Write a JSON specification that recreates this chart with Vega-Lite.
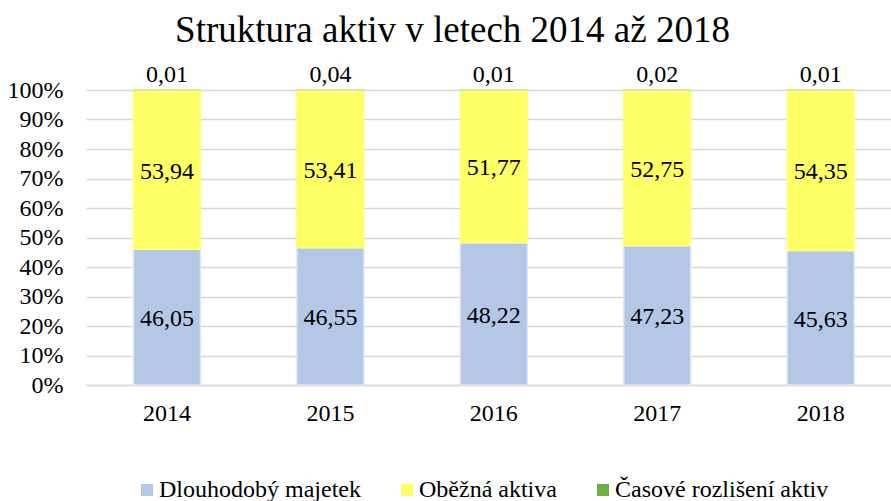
{
  "$schema": "https://vega.github.io/schema/vega-lite/v6.json",
  "width": 805,
  "height": 295,
  "autosize": {"type": "none"},
  "padding": {"left": 86, "top": 90, "right": 0, "bottom": 116},
  "background": "white",
  "title": {
    "text": "Struktura aktiv v letech 2014 až 2018",
    "font": "Times New Roman, Liberation Serif, serif",
    "fontSize": 37,
    "fontWeight": "normal",
    "color": "#000000",
    "anchor": "middle",
    "baseline": "alphabetic",
    "dx": -36,
    "dy": 30,
    "offset": 14
  },
  "config": {
    "locale": {"number": {"decimal": ",", "thousands": " ", "grouping": [3], "currency": ["", " Kč"]}},
    "view": {"stroke": null},
    "font": "Times New Roman, Liberation Serif, serif",
    "axisY": {
      "format": "%",
      "values": [0, 0.1, 0.2, 0.3, 0.4, 0.5, 0.6, 0.7, 0.8, 0.9, 1],
      "labelOverlap": false,
      "labelFont": "Times New Roman, Liberation Serif, serif",
      "labelFontSize": 24,
      "labelColor": "#000000",
      "labelPadding": 23,
      "ticks": false,
      "domain": false,
      "gridColor": "#d9d9d9",
      "gridWidth": 1.5,
      "title": null
    }
  },
  "data": {
    "values": [
      {"rok": "2014", "polozka": "Dlouhodobý majetek", "poradi": 1, "hodnota": 46.05},
      {"rok": "2014", "polozka": "Oběžná aktiva", "poradi": 2, "hodnota": 53.94},
      {"rok": "2014", "polozka": "Časové rozlišení aktiv", "poradi": 3, "hodnota": 0.01},
      {"rok": "2015", "polozka": "Dlouhodobý majetek", "poradi": 1, "hodnota": 46.55},
      {"rok": "2015", "polozka": "Oběžná aktiva", "poradi": 2, "hodnota": 53.41},
      {"rok": "2015", "polozka": "Časové rozlišení aktiv", "poradi": 3, "hodnota": 0.04},
      {"rok": "2016", "polozka": "Dlouhodobý majetek", "poradi": 1, "hodnota": 48.22},
      {"rok": "2016", "polozka": "Oběžná aktiva", "poradi": 2, "hodnota": 51.77},
      {"rok": "2016", "polozka": "Časové rozlišení aktiv", "poradi": 3, "hodnota": 0.01},
      {"rok": "2017", "polozka": "Dlouhodobý majetek", "poradi": 1, "hodnota": 47.23},
      {"rok": "2017", "polozka": "Oběžná aktiva", "poradi": 2, "hodnota": 52.75},
      {"rok": "2017", "polozka": "Časové rozlišení aktiv", "poradi": 3, "hodnota": 0.02},
      {"rok": "2018", "polozka": "Dlouhodobý majetek", "poradi": 1, "hodnota": 45.63},
      {"rok": "2018", "polozka": "Oběžná aktiva", "poradi": 2, "hodnota": 54.35},
      {"rok": "2018", "polozka": "Časové rozlišení aktiv", "poradi": 3, "hodnota": 0.01}
    ]
  },
  "transform": [
    {"stack": "hodnota", "groupby": ["rok"], "sort": [{"field": "poradi", "order": "ascending"}], "offset": "normalize", "as": ["y0", "y1"]},
    {"calculate": "(datum.y0 + datum.y1) / 2", "as": "ymid"}
  ],
  "encoding": {
    "x": {
      "field": "rok",
      "type": "nominal",
      "title": null,
      "scale": {"paddingInner": 0.59, "paddingOuter": 0.258, "align": 0.563},
      "axis": {
        "labelAngle": 0,
        "labelFont": "Times New Roman, Liberation Serif, serif",
        "labelFontSize": 24,
        "labelColor": "#000000",
        "labelPadding": 16,
        "ticks": false,
        "domainColor": "#d9d9d9",
        "domainWidth": 1.5,
        "grid": false
      }
    }
  },
  "layer": [
    {
      "mark": {"type": "bar", "strokeWidth": 1.5},
      "encoding": {
        "y": {
          "field": "y0",
          "type": "quantitative",
          "scale": {"domain": [0, 1]},
          "title": null
        },
        "y2": {"field": "y1"},
        "color": {
          "field": "polozka",
          "type": "nominal",
          "scale": {
            "domain": ["Dlouhodobý majetek", "Oběžná aktiva", "Časové rozlišení aktiv"],
            "range": ["#b4c7e7", "#ffff66", "#70ad47"]
          },
          "legend": {
            "title": null,
            "orient": "none",
            "direction": "horizontal",
            "legendX": 49,
            "legendY": 388,
            "symbolType": "square",
            "symbolSize": 144,
            "symbolStrokeWidth": 0,
            "labelFont": "Times New Roman, Liberation Serif, serif",
            "labelFontSize": 24,
            "labelColor": "#000000",
            "labelLimit": 0,
            "labelOffset": 0,
            "columnPadding": 34
          }
        },
        "stroke": {
          "field": "polozka",
          "type": "nominal",
          "scale": {
            "domain": ["Dlouhodobý majetek", "Oběžná aktiva", "Časové rozlišení aktiv"],
            "range": ["#dde6f4", "#ffff80", "#c5e0b4"]
          },
          "legend": null
        }
      }
    },
    {
      "transform": [{"filter": "datum.poradi < 3"}],
      "mark": {"type": "text", "font": "Times New Roman, Liberation Serif, serif", "fontSize": 24, "color": "#000000", "baseline": "middle", "dy": 2},
      "encoding": {
        "y": {"field": "ymid", "type": "quantitative", "title": null},
        "text": {"field": "hodnota", "type": "quantitative", "format": ".2f"}
      }
    },
    {
      "transform": [{"filter": "datum.poradi == 3"}],
      "mark": {"type": "text", "font": "Times New Roman, Liberation Serif, serif", "fontSize": 24, "color": "#000000", "baseline": "alphabetic", "dy": -8},
      "encoding": {
        "y": {"field": "y1", "type": "quantitative", "title": null},
        "text": {"field": "hodnota", "type": "quantitative", "format": ".2f"}
      }
    }
  ]
}
